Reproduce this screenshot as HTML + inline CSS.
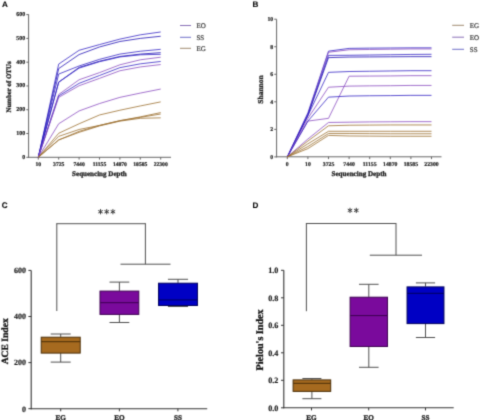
<!DOCTYPE html>
<html><head><meta charset="utf-8"><style>
html,body{margin:0;padding:0;background:#fff;}
body{width:480px;height:420px;overflow:hidden;font-family:"Liberation Serif", serif;}
svg{display:block;}
text{text-rendering:geometricPrecision;}
</style></head><body>
<svg width="480" height="420" viewBox="0 0 480 420">
<defs><filter id="bl" x="0" y="0" width="480" height="420" filterUnits="userSpaceOnUse" color-interpolation-filters="sRGB"><feConvolveMatrix order="3" kernelMatrix="0.0225 0.105 0.0225 0.105 0.49 0.105 0.0225 0.105 0.0225" edgeMode="duplicate"/></filter></defs>
<g filter="url(#bl)">
<rect width="480" height="420" fill="#fff"/>
<text x="1.9" y="7.1" text-anchor="start" font-family='"Liberation Sans", sans-serif' font-weight="bold" font-size="8.1" fill="#000"  stroke="#000" stroke-width="0.1">A</text>
<line x1="28.60" y1="14.30" x2="28.60" y2="157.80" stroke="#666" stroke-width="1"/>
<line x1="28.10" y1="157.30" x2="171.00" y2="157.30" stroke="#666" stroke-width="1"/>
<line x1="26.30" y1="157.30" x2="28.60" y2="157.30" stroke="#666" stroke-width="1"/>
<text x="25.1" y="158.8" text-anchor="end" font-family='"Liberation Serif", serif' font-weight="bold" font-size="5.9" fill="#222"  stroke="#222" stroke-width="0.2">0</text>
<line x1="26.30" y1="133.52" x2="28.60" y2="133.52" stroke="#666" stroke-width="1"/>
<text x="25.1" y="135.02" text-anchor="end" font-family='"Liberation Serif", serif' font-weight="bold" font-size="5.9" fill="#222"  stroke="#222" stroke-width="0.2">100</text>
<line x1="26.30" y1="109.74" x2="28.60" y2="109.74" stroke="#666" stroke-width="1"/>
<text x="25.1" y="111.24000000000001" text-anchor="end" font-family='"Liberation Serif", serif' font-weight="bold" font-size="5.9" fill="#222"  stroke="#222" stroke-width="0.2">200</text>
<line x1="26.30" y1="85.96" x2="28.60" y2="85.96" stroke="#666" stroke-width="1"/>
<text x="25.1" y="87.46000000000001" text-anchor="end" font-family='"Liberation Serif", serif' font-weight="bold" font-size="5.9" fill="#222"  stroke="#222" stroke-width="0.2">300</text>
<line x1="26.30" y1="62.18" x2="28.60" y2="62.18" stroke="#666" stroke-width="1"/>
<text x="25.1" y="63.68000000000001" text-anchor="end" font-family='"Liberation Serif", serif' font-weight="bold" font-size="5.9" fill="#222"  stroke="#222" stroke-width="0.2">400</text>
<line x1="26.30" y1="38.40" x2="28.60" y2="38.40" stroke="#666" stroke-width="1"/>
<text x="25.1" y="39.900000000000006" text-anchor="end" font-family='"Liberation Serif", serif' font-weight="bold" font-size="5.9" fill="#222"  stroke="#222" stroke-width="0.2">500</text>
<line x1="26.30" y1="14.62" x2="28.60" y2="14.62" stroke="#666" stroke-width="1"/>
<text x="25.1" y="16.120000000000005" text-anchor="end" font-family='"Liberation Serif", serif' font-weight="bold" font-size="5.9" fill="#222"  stroke="#222" stroke-width="0.2">600</text>
<line x1="38.30" y1="157.30" x2="38.30" y2="159.60" stroke="#666" stroke-width="1"/>
<text x="38.3" y="165.6" text-anchor="middle" font-family='"Liberation Serif", serif' font-weight="bold" font-size="5.6" fill="#222"  stroke="#222" stroke-width="0.2">10</text>
<line x1="58.70" y1="157.30" x2="58.70" y2="159.60" stroke="#666" stroke-width="1"/>
<text x="58.7" y="165.6" text-anchor="middle" font-family='"Liberation Serif", serif' font-weight="bold" font-size="5.6" fill="#222"  stroke="#222" stroke-width="0.2">3725</text>
<line x1="79.10" y1="157.30" x2="79.10" y2="159.60" stroke="#666" stroke-width="1"/>
<text x="79.1" y="165.6" text-anchor="middle" font-family='"Liberation Serif", serif' font-weight="bold" font-size="5.6" fill="#222"  stroke="#222" stroke-width="0.2">7440</text>
<line x1="99.50" y1="157.30" x2="99.50" y2="159.60" stroke="#666" stroke-width="1"/>
<text x="99.5" y="165.6" text-anchor="middle" font-family='"Liberation Serif", serif' font-weight="bold" font-size="5.6" fill="#222"  stroke="#222" stroke-width="0.2">11155</text>
<line x1="119.90" y1="157.30" x2="119.90" y2="159.60" stroke="#666" stroke-width="1"/>
<text x="119.9" y="165.6" text-anchor="middle" font-family='"Liberation Serif", serif' font-weight="bold" font-size="5.6" fill="#222"  stroke="#222" stroke-width="0.2">14870</text>
<line x1="140.30" y1="157.30" x2="140.30" y2="159.60" stroke="#666" stroke-width="1"/>
<text x="140.3" y="165.6" text-anchor="middle" font-family='"Liberation Serif", serif' font-weight="bold" font-size="5.6" fill="#222"  stroke="#222" stroke-width="0.2">18585</text>
<line x1="160.70" y1="157.30" x2="160.70" y2="159.60" stroke="#666" stroke-width="1"/>
<text x="160.7" y="165.6" text-anchor="middle" font-family='"Liberation Serif", serif' font-weight="bold" font-size="5.6" fill="#222"  stroke="#222" stroke-width="0.2">22300</text>
<text x="99.4" y="176.0" text-anchor="middle" font-family='"Liberation Serif", serif' font-weight="bold" font-size="7.05" fill="#222"  stroke="#222" stroke-width="0.3">Sequencing Depth</text>
<text transform="translate(11.1,87) rotate(-90)" text-anchor="middle" font-family='"Liberation Serif", serif' font-weight="bold" font-size="6.9" fill="#222"  stroke="#222" stroke-width="0.3">Number of OTUs</text>
<polyline points="38.30,157.30 58.70,64.08 79.10,50.29 99.50,44.58 119.90,39.11 140.30,34.83 160.70,31.98" fill="none" stroke="#3424c4" stroke-width="0.8" stroke-opacity="1" stroke-linejoin="round"/>
<polyline points="38.30,157.30 58.70,68.60 79.10,54.57 99.50,46.96 119.90,41.49 140.30,38.40 160.70,36.26" fill="none" stroke="#2010b4" stroke-width="0.8" stroke-opacity="1" stroke-linejoin="round"/>
<polyline points="38.30,157.30 58.70,74.07 79.10,65.98 99.50,59.33 119.90,54.09 140.30,51.24 160.70,49.34" fill="none" stroke="#3424c4" stroke-width="0.8" stroke-opacity="1" stroke-linejoin="round"/>
<polyline points="38.30,157.30 58.70,82.16 79.10,67.41 99.50,61.23 119.90,56.47 140.30,54.09 160.70,52.67" fill="none" stroke="#2010b4" stroke-width="0.8" stroke-opacity="1" stroke-linejoin="round"/>
<polyline points="38.30,157.30 58.70,82.16 79.10,68.12 99.50,61.70 119.90,56.95 140.30,54.81 160.70,54.33" fill="none" stroke="#3424c4" stroke-width="0.8" stroke-opacity="1" stroke-linejoin="round"/>
<polyline points="38.30,157.30 58.70,94.52 79.10,79.78 99.50,72.64 119.90,64.80 140.30,59.80 160.70,57.19" fill="none" stroke="#8a4cc0" stroke-width="0.8" stroke-opacity="1" stroke-linejoin="round"/>
<polyline points="38.30,157.30 58.70,95.95 79.10,83.34 99.50,75.50 119.90,67.65 140.30,63.84 160.70,61.47" fill="none" stroke="#3424c4" stroke-width="0.8" stroke-opacity="1" stroke-linejoin="round"/>
<polyline points="38.30,157.30 58.70,97.37 79.10,85.72 99.50,78.35 119.90,70.74 140.30,66.94 160.70,64.56" fill="none" stroke="#8a4cc0" stroke-width="0.8" stroke-opacity="1" stroke-linejoin="round"/>
<polyline points="38.30,157.30 58.70,123.77 79.10,110.93 99.50,103.56 119.90,97.37 140.30,93.09 160.70,89.05" fill="none" stroke="#8a4cc0" stroke-width="0.8" stroke-opacity="1" stroke-linejoin="round"/>
<polyline points="38.30,157.30 58.70,133.28 79.10,123.77 99.50,114.97 119.90,110.22 140.30,105.94 160.70,101.89" fill="none" stroke="#9c7030" stroke-width="0.8" stroke-opacity="1" stroke-linejoin="round"/>
<polyline points="38.30,157.30 58.70,136.37 79.10,129.48 99.50,125.43 119.90,120.68 140.30,116.87 160.70,112.59" fill="none" stroke="#9c7030" stroke-width="0.8" stroke-opacity="1" stroke-linejoin="round"/>
<polyline points="38.30,157.30 58.70,139.94 79.10,131.38 99.50,125.43 119.90,120.68 140.30,117.35 160.70,114.02" fill="none" stroke="#9c7030" stroke-width="0.8" stroke-opacity="1" stroke-linejoin="round"/>
<polyline points="38.30,157.30 58.70,139.94 79.10,132.33 99.50,125.91 119.90,121.15 140.30,118.30 160.70,117.83" fill="none" stroke="#9c7030" stroke-width="0.8" stroke-opacity="1" stroke-linejoin="round"/>
<line x1="180.00" y1="25.50" x2="191.00" y2="25.50" stroke="#8a70b8" stroke-width="1.0"/>
<text x="196.4" y="27.9" text-anchor="start" font-family='"Liberation Serif", serif' font-weight="normal" font-size="7.0" fill="#333"  stroke="#333" stroke-width="0.2">EO</text>
<line x1="180.00" y1="37.30" x2="191.00" y2="37.30" stroke="#7070c8" stroke-width="1.0"/>
<text x="196.4" y="39.699999999999996" text-anchor="start" font-family='"Liberation Serif", serif' font-weight="normal" font-size="7.0" fill="#333"  stroke="#333" stroke-width="0.2">SS</text>
<line x1="180.00" y1="48.30" x2="191.00" y2="48.30" stroke="#a08a70" stroke-width="1.0"/>
<text x="196.4" y="50.699999999999996" text-anchor="start" font-family='"Liberation Serif", serif' font-weight="normal" font-size="7.0" fill="#333"  stroke="#333" stroke-width="0.2">EG</text>
<text x="252.5" y="7.1" text-anchor="start" font-family='"Liberation Sans", sans-serif' font-weight="bold" font-size="8.1" fill="#000"  stroke="#000" stroke-width="0.1">B</text>
<line x1="276.60" y1="19.30" x2="276.60" y2="157.30" stroke="#666" stroke-width="1"/>
<line x1="276.10" y1="156.80" x2="441.50" y2="156.80" stroke="#666" stroke-width="1"/>
<line x1="274.20" y1="156.90" x2="276.60" y2="156.90" stroke="#666" stroke-width="1"/>
<text x="273.2" y="158.8" text-anchor="end" font-family='"Liberation Serif", serif' font-weight="bold" font-size="5.8" fill="#222"  stroke="#222" stroke-width="0.2">0</text>
<line x1="274.20" y1="129.36" x2="276.60" y2="129.36" stroke="#666" stroke-width="1"/>
<text x="273.2" y="131.26000000000002" text-anchor="end" font-family='"Liberation Serif", serif' font-weight="bold" font-size="5.8" fill="#222"  stroke="#222" stroke-width="0.2">2</text>
<line x1="274.20" y1="101.82" x2="276.60" y2="101.82" stroke="#666" stroke-width="1"/>
<text x="273.2" y="103.72000000000001" text-anchor="end" font-family='"Liberation Serif", serif' font-weight="bold" font-size="5.8" fill="#222"  stroke="#222" stroke-width="0.2">4</text>
<line x1="274.20" y1="74.28" x2="276.60" y2="74.28" stroke="#666" stroke-width="1"/>
<text x="273.2" y="76.18" text-anchor="end" font-family='"Liberation Serif", serif' font-weight="bold" font-size="5.8" fill="#222"  stroke="#222" stroke-width="0.2">6</text>
<line x1="274.20" y1="46.74" x2="276.60" y2="46.74" stroke="#666" stroke-width="1"/>
<text x="273.2" y="48.64000000000001" text-anchor="end" font-family='"Liberation Serif", serif' font-weight="bold" font-size="5.8" fill="#222"  stroke="#222" stroke-width="0.2">8</text>
<line x1="274.20" y1="19.20" x2="276.60" y2="19.20" stroke="#666" stroke-width="1"/>
<text x="273.2" y="21.100000000000016" text-anchor="end" font-family='"Liberation Serif", serif' font-weight="bold" font-size="5.8" fill="#222"  stroke="#222" stroke-width="0.2">10</text>
<line x1="287.30" y1="156.80" x2="287.30" y2="159.10" stroke="#666" stroke-width="1"/>
<text x="287.3" y="165.5" text-anchor="middle" font-family='"Liberation Serif", serif' font-weight="bold" font-size="5.75" fill="#222"  stroke="#222" stroke-width="0.2">0</text>
<line x1="307.90" y1="156.80" x2="307.90" y2="159.10" stroke="#666" stroke-width="1"/>
<text x="307.9" y="165.5" text-anchor="middle" font-family='"Liberation Serif", serif' font-weight="bold" font-size="5.75" fill="#222"  stroke="#222" stroke-width="0.2">10</text>
<line x1="328.50" y1="156.80" x2="328.50" y2="159.10" stroke="#666" stroke-width="1"/>
<text x="328.5" y="165.5" text-anchor="middle" font-family='"Liberation Serif", serif' font-weight="bold" font-size="5.75" fill="#222"  stroke="#222" stroke-width="0.2">3725</text>
<line x1="349.10" y1="156.80" x2="349.10" y2="159.10" stroke="#666" stroke-width="1"/>
<text x="349.1" y="165.5" text-anchor="middle" font-family='"Liberation Serif", serif' font-weight="bold" font-size="5.75" fill="#222"  stroke="#222" stroke-width="0.2">7440</text>
<line x1="369.70" y1="156.80" x2="369.70" y2="159.10" stroke="#666" stroke-width="1"/>
<text x="369.7" y="165.5" text-anchor="middle" font-family='"Liberation Serif", serif' font-weight="bold" font-size="5.75" fill="#222"  stroke="#222" stroke-width="0.2">11155</text>
<line x1="390.30" y1="156.80" x2="390.30" y2="159.10" stroke="#666" stroke-width="1"/>
<text x="390.3" y="165.5" text-anchor="middle" font-family='"Liberation Serif", serif' font-weight="bold" font-size="5.75" fill="#222"  stroke="#222" stroke-width="0.2">14870</text>
<line x1="410.90" y1="156.80" x2="410.90" y2="159.10" stroke="#666" stroke-width="1"/>
<text x="410.9" y="165.5" text-anchor="middle" font-family='"Liberation Serif", serif' font-weight="bold" font-size="5.75" fill="#222"  stroke="#222" stroke-width="0.2">18585</text>
<line x1="431.50" y1="156.80" x2="431.50" y2="159.10" stroke="#666" stroke-width="1"/>
<text x="431.5" y="165.5" text-anchor="middle" font-family='"Liberation Serif", serif' font-weight="bold" font-size="5.75" fill="#222"  stroke="#222" stroke-width="0.2">22300</text>
<text x="359" y="176.4" text-anchor="middle" font-family='"Liberation Serif", serif' font-weight="bold" font-size="7.1" fill="#222"  stroke="#222" stroke-width="0.3">Sequencing Depth</text>
<text transform="translate(262.5,89.5) rotate(-90)" text-anchor="middle" font-family='"Liberation Serif", serif' font-weight="bold" font-size="7.5" fill="#222"  stroke="#222" stroke-width="0.3">Shannon</text>
<polyline points="287.30,156.90 307.90,112.84 328.50,51.15 349.10,48.39 369.70,48.12 390.30,47.98 410.90,47.84 431.50,47.84" fill="none" stroke="#3424c4" stroke-width="0.8" stroke-opacity="1" stroke-linejoin="round"/>
<polyline points="287.30,156.90 307.90,114.21 328.50,52.25 349.10,49.77 369.70,49.49 390.30,49.22 410.90,48.94 431.50,48.94" fill="none" stroke="#8a4cc0" stroke-width="0.8" stroke-opacity="1" stroke-linejoin="round"/>
<polyline points="287.30,156.90 307.90,114.21 328.50,55.42 349.10,55.28 369.70,55.00 390.30,54.73 410.90,54.45 431.50,54.31" fill="none" stroke="#3424c4" stroke-width="0.8" stroke-opacity="1" stroke-linejoin="round"/>
<polyline points="287.30,156.90 307.90,115.59 328.50,57.62 349.10,57.07 369.70,56.93 390.30,56.79 410.90,56.65 431.50,56.65" fill="none" stroke="#2010b4" stroke-width="0.8" stroke-opacity="1" stroke-linejoin="round"/>
<polyline points="287.30,156.90 307.90,115.59 328.50,72.35 349.10,71.53 369.70,71.25 390.30,70.98 410.90,70.70 431.50,70.70" fill="none" stroke="#3424c4" stroke-width="0.8" stroke-opacity="1" stroke-linejoin="round"/>
<polyline points="287.30,156.90 307.90,121.10 328.50,118.34 349.10,76.21 369.70,76.07 390.30,75.93 410.90,75.66 431.50,75.66" fill="none" stroke="#8a4cc0" stroke-width="0.8" stroke-opacity="1" stroke-linejoin="round"/>
<polyline points="287.30,156.90 307.90,118.34 328.50,87.22 349.10,86.12 369.70,85.85 390.30,85.71 410.90,85.43 431.50,85.43" fill="none" stroke="#8a4cc0" stroke-width="0.8" stroke-opacity="1" stroke-linejoin="round"/>
<polyline points="287.30,156.90 307.90,121.10 328.50,97.14 349.10,96.04 369.70,95.76 390.30,95.62 410.90,95.35 431.50,95.35" fill="none" stroke="#3424c4" stroke-width="0.8" stroke-opacity="1" stroke-linejoin="round"/>
<polyline points="287.30,156.90 307.90,139.00 328.50,122.48 349.10,122.20 369.70,121.92 390.30,121.79 410.90,121.65 431.50,121.65" fill="none" stroke="#8a4cc0" stroke-width="0.8" stroke-opacity="1" stroke-linejoin="round"/>
<polyline points="287.30,156.90 307.90,141.06 328.50,125.78 349.10,125.23 369.70,125.09 390.30,124.95 410.90,124.95 431.50,124.95" fill="none" stroke="#9c7030" stroke-width="0.8" stroke-opacity="1" stroke-linejoin="round"/>
<polyline points="287.30,156.90 307.90,143.82 328.50,131.29 349.10,131.29 369.70,131.29 390.30,131.29 410.90,131.29 431.50,131.29" fill="none" stroke="#9c7030" stroke-width="0.8" stroke-opacity="1" stroke-linejoin="round"/>
<polyline points="287.30,156.90 307.90,146.57 328.50,133.49 349.10,133.49 369.70,133.63 390.30,133.77 410.90,133.77 431.50,133.77" fill="none" stroke="#9c7030" stroke-width="0.8" stroke-opacity="1" stroke-linejoin="round"/>
<polyline points="287.30,156.90 307.90,148.64 328.50,135.42 349.10,135.97 369.70,136.11 390.30,136.25 410.90,136.25 431.50,136.25" fill="none" stroke="#9c7030" stroke-width="0.8" stroke-opacity="1" stroke-linejoin="round"/>
<line x1="452.20" y1="25.30" x2="464.00" y2="25.30" stroke="#a08a70" stroke-width="1.0"/>
<text x="469.8" y="27.7" text-anchor="start" font-family='"Liberation Serif", serif' font-weight="normal" font-size="7.0" fill="#333"  stroke="#333" stroke-width="0.2">EG</text>
<line x1="452.20" y1="37.20" x2="464.00" y2="37.20" stroke="#8a70b8" stroke-width="1.0"/>
<text x="469.8" y="39.6" text-anchor="start" font-family='"Liberation Serif", serif' font-weight="normal" font-size="7.0" fill="#333"  stroke="#333" stroke-width="0.2">EO</text>
<line x1="452.20" y1="49.30" x2="464.00" y2="49.30" stroke="#7070c8" stroke-width="1.0"/>
<text x="469.8" y="51.699999999999996" text-anchor="start" font-family='"Liberation Serif", serif' font-weight="normal" font-size="7.0" fill="#333"  stroke="#333" stroke-width="0.2">SS</text>
<text x="1.7" y="207.7" text-anchor="start" font-family='"Liberation Sans", sans-serif' font-weight="bold" font-size="8.1" fill="#000"  stroke="#000" stroke-width="0.1">C</text>
<line x1="31.20" y1="270.40" x2="31.20" y2="409.20" stroke="#333" stroke-width="1.1"/>
<line x1="30.70" y1="408.70" x2="207.20" y2="408.70" stroke="#333" stroke-width="1.1"/>
<line x1="28.40" y1="408.70" x2="31.20" y2="408.70" stroke="#333" stroke-width="1.0"/>
<text x="26.1" y="411.5" text-anchor="end" font-family='"Liberation Serif", serif' font-weight="bold" font-size="8.0" fill="#1a1a1a"  stroke="#1a1a1a" stroke-width="0.15">0</text>
<line x1="28.40" y1="362.60" x2="31.20" y2="362.60" stroke="#333" stroke-width="1.0"/>
<text x="26.1" y="365.4" text-anchor="end" font-family='"Liberation Serif", serif' font-weight="bold" font-size="8.0" fill="#1a1a1a"  stroke="#1a1a1a" stroke-width="0.15">200</text>
<line x1="28.40" y1="316.50" x2="31.20" y2="316.50" stroke="#333" stroke-width="1.0"/>
<text x="26.1" y="319.3" text-anchor="end" font-family='"Liberation Serif", serif' font-weight="bold" font-size="8.0" fill="#1a1a1a"  stroke="#1a1a1a" stroke-width="0.15">400</text>
<line x1="28.40" y1="270.40" x2="31.20" y2="270.40" stroke="#333" stroke-width="1.0"/>
<text x="26.1" y="273.2" text-anchor="end" font-family='"Liberation Serif", serif' font-weight="bold" font-size="8.0" fill="#1a1a1a"  stroke="#1a1a1a" stroke-width="0.15">600</text>
<line x1="60.70" y1="408.70" x2="60.70" y2="411.30" stroke="#333" stroke-width="1"/>
<text x="60.7" y="420.3" text-anchor="middle" font-family='"Liberation Serif", serif' font-weight="bold" font-size="7.2" fill="#222"  stroke="#222" stroke-width="0.3">EG</text>
<line x1="119.40" y1="408.70" x2="119.40" y2="411.30" stroke="#333" stroke-width="1"/>
<text x="119.4" y="420.3" text-anchor="middle" font-family='"Liberation Serif", serif' font-weight="bold" font-size="7.2" fill="#222"  stroke="#222" stroke-width="0.3">EO</text>
<line x1="177.90" y1="408.70" x2="177.90" y2="411.30" stroke="#333" stroke-width="1"/>
<text x="177.9" y="420.3" text-anchor="middle" font-family='"Liberation Serif", serif' font-weight="bold" font-size="7.2" fill="#222"  stroke="#222" stroke-width="0.3">SS</text>
<text transform="translate(7.7,341.3) rotate(-90)" text-anchor="middle" font-family='"Liberation Serif", serif' font-weight="bold" font-size="9.6" fill="#111"  stroke="#111" stroke-width="0.3">ACE Index</text>
<line x1="56.80" y1="223.70" x2="56.80" y2="311.00" stroke="#505050" stroke-width="1"/>
<line x1="56.30" y1="223.70" x2="145.40" y2="223.70" stroke="#505050" stroke-width="1"/>
<line x1="145.40" y1="223.20" x2="145.40" y2="264.20" stroke="#505050" stroke-width="1"/>
<line x1="120.50" y1="264.20" x2="170.50" y2="264.20" stroke="#505050" stroke-width="1"/>
<line x1="100.50" y1="209.10" x2="100.50" y2="214.30" stroke="#3a3a3a" stroke-width="1.0"/>
<line x1="98.25" y1="210.40" x2="102.75" y2="213.00" stroke="#3a3a3a" stroke-width="1.0"/>
<line x1="102.75" y1="210.40" x2="98.25" y2="213.00" stroke="#3a3a3a" stroke-width="1.0"/>
<line x1="106.70" y1="209.10" x2="106.70" y2="214.30" stroke="#3a3a3a" stroke-width="1.0"/>
<line x1="104.45" y1="210.40" x2="108.95" y2="213.00" stroke="#3a3a3a" stroke-width="1.0"/>
<line x1="108.95" y1="210.40" x2="104.45" y2="213.00" stroke="#3a3a3a" stroke-width="1.0"/>
<line x1="112.90" y1="209.10" x2="112.90" y2="214.30" stroke="#3a3a3a" stroke-width="1.0"/>
<line x1="110.65" y1="210.40" x2="115.15" y2="213.00" stroke="#3a3a3a" stroke-width="1.0"/>
<line x1="115.15" y1="210.40" x2="110.65" y2="213.00" stroke="#3a3a3a" stroke-width="1.0"/>
<line x1="60.70" y1="334.00" x2="60.70" y2="336.90" stroke="#505050" stroke-width="1"/>
<line x1="60.70" y1="353.10" x2="60.70" y2="362.10" stroke="#505050" stroke-width="1"/>
<line x1="50.70" y1="334.00" x2="70.70" y2="334.00" stroke="#505050" stroke-width="1"/>
<line x1="50.70" y1="362.10" x2="70.70" y2="362.10" stroke="#505050" stroke-width="1"/>
<rect x="41.20" y="337.20" width="39.00" height="15.90" fill="#a66a1f" stroke="#4a2e08" stroke-width="1"/>
<line x1="41.20" y1="341.70" x2="80.20" y2="341.70" stroke="#4a2e08" stroke-width="1"/>
<line x1="119.40" y1="282.10" x2="119.40" y2="290.80" stroke="#505050" stroke-width="1"/>
<line x1="119.40" y1="314.40" x2="119.40" y2="322.50" stroke="#505050" stroke-width="1"/>
<line x1="109.50" y1="282.10" x2="129.30" y2="282.10" stroke="#505050" stroke-width="1"/>
<line x1="109.50" y1="322.50" x2="129.30" y2="322.50" stroke="#505050" stroke-width="1"/>
<rect x="100.00" y="291.10" width="38.80" height="23.30" fill="#7a0a9c" stroke="#3c0050" stroke-width="1"/>
<line x1="100.00" y1="302.70" x2="138.80" y2="302.70" stroke="#3c0050" stroke-width="1"/>
<line x1="178.00" y1="279.30" x2="178.00" y2="282.90" stroke="#505050" stroke-width="1"/>
<line x1="178.00" y1="305.50" x2="178.00" y2="306.50" stroke="#505050" stroke-width="1"/>
<line x1="167.95" y1="279.30" x2="188.05" y2="279.30" stroke="#505050" stroke-width="1"/>
<line x1="167.95" y1="306.50" x2="188.05" y2="306.50" stroke="#505050" stroke-width="1"/>
<rect x="158.55" y="283.20" width="38.90" height="22.30" fill="#0000c4" stroke="#00005c" stroke-width="1"/>
<line x1="158.55" y1="299.90" x2="197.45" y2="299.90" stroke="#00005c" stroke-width="1"/>
<text x="252.6" y="207.7" text-anchor="start" font-family='"Liberation Sans", sans-serif' font-weight="bold" font-size="8.1" fill="#000"  stroke="#000" stroke-width="0.1">D</text>
<line x1="283.80" y1="270.30" x2="283.80" y2="408.30" stroke="#333" stroke-width="1.1"/>
<line x1="283.30" y1="407.80" x2="453.70" y2="407.80" stroke="#333" stroke-width="1.1"/>
<line x1="281.00" y1="407.80" x2="283.80" y2="407.80" stroke="#333" stroke-width="1.0"/>
<text x="278.4" y="410.6" text-anchor="end" font-family='"Liberation Serif", serif' font-weight="bold" font-size="8.2" fill="#1a1a1a"  stroke="#1a1a1a" stroke-width="0.15">0.0</text>
<line x1="281.00" y1="380.30" x2="283.80" y2="380.30" stroke="#333" stroke-width="1.0"/>
<text x="278.4" y="383.1" text-anchor="end" font-family='"Liberation Serif", serif' font-weight="bold" font-size="8.2" fill="#1a1a1a"  stroke="#1a1a1a" stroke-width="0.15">0.2</text>
<line x1="281.00" y1="352.80" x2="283.80" y2="352.80" stroke="#333" stroke-width="1.0"/>
<text x="278.4" y="355.6" text-anchor="end" font-family='"Liberation Serif", serif' font-weight="bold" font-size="8.2" fill="#1a1a1a"  stroke="#1a1a1a" stroke-width="0.15">0.4</text>
<line x1="281.00" y1="325.30" x2="283.80" y2="325.30" stroke="#333" stroke-width="1.0"/>
<text x="278.4" y="328.1" text-anchor="end" font-family='"Liberation Serif", serif' font-weight="bold" font-size="8.2" fill="#1a1a1a"  stroke="#1a1a1a" stroke-width="0.15">0.6</text>
<line x1="281.00" y1="297.80" x2="283.80" y2="297.80" stroke="#333" stroke-width="1.0"/>
<text x="278.4" y="300.6" text-anchor="end" font-family='"Liberation Serif", serif' font-weight="bold" font-size="8.2" fill="#1a1a1a"  stroke="#1a1a1a" stroke-width="0.15">0.8</text>
<line x1="281.00" y1="270.30" x2="283.80" y2="270.30" stroke="#333" stroke-width="1.0"/>
<text x="278.4" y="273.1" text-anchor="end" font-family='"Liberation Serif", serif' font-weight="bold" font-size="8.2" fill="#1a1a1a"  stroke="#1a1a1a" stroke-width="0.15">1.0</text>
<line x1="311.50" y1="407.80" x2="311.50" y2="410.40" stroke="#333" stroke-width="1"/>
<text x="311.5" y="419.6" text-anchor="middle" font-family='"Liberation Serif", serif' font-weight="bold" font-size="7.2" fill="#222"  stroke="#222" stroke-width="0.3">EG</text>
<line x1="368.70" y1="407.80" x2="368.70" y2="410.40" stroke="#333" stroke-width="1"/>
<text x="368.7" y="419.6" text-anchor="middle" font-family='"Liberation Serif", serif' font-weight="bold" font-size="7.2" fill="#222"  stroke="#222" stroke-width="0.3">EO</text>
<line x1="425.50" y1="407.80" x2="425.50" y2="410.40" stroke="#333" stroke-width="1"/>
<text x="425.5" y="419.6" text-anchor="middle" font-family='"Liberation Serif", serif' font-weight="bold" font-size="7.2" fill="#222"  stroke="#222" stroke-width="0.3">SS</text>
<text transform="translate(263.0,339.9) rotate(-90)" text-anchor="middle" font-family='"Liberation Serif", serif' font-weight="bold" font-size="10.15" fill="#111"  stroke="#111" stroke-width="0.3">Pielou's Index</text>
<line x1="306.40" y1="223.50" x2="306.40" y2="311.20" stroke="#505050" stroke-width="1"/>
<line x1="305.90" y1="223.50" x2="396.00" y2="223.50" stroke="#505050" stroke-width="1"/>
<line x1="396.00" y1="223.00" x2="396.00" y2="255.20" stroke="#505050" stroke-width="1"/>
<line x1="369.80" y1="255.20" x2="422.00" y2="255.20" stroke="#505050" stroke-width="1"/>
<line x1="350.00" y1="207.80" x2="350.00" y2="213.00" stroke="#3a3a3a" stroke-width="1.0"/>
<line x1="347.75" y1="209.10" x2="352.25" y2="211.70" stroke="#3a3a3a" stroke-width="1.0"/>
<line x1="352.25" y1="209.10" x2="347.75" y2="211.70" stroke="#3a3a3a" stroke-width="1.0"/>
<line x1="356.30" y1="207.80" x2="356.30" y2="213.00" stroke="#3a3a3a" stroke-width="1.0"/>
<line x1="354.05" y1="209.10" x2="358.55" y2="211.70" stroke="#3a3a3a" stroke-width="1.0"/>
<line x1="358.55" y1="209.10" x2="354.05" y2="211.70" stroke="#3a3a3a" stroke-width="1.0"/>
<line x1="311.90" y1="378.50" x2="311.90" y2="379.60" stroke="#505050" stroke-width="1"/>
<line x1="311.90" y1="391.40" x2="311.90" y2="398.70" stroke="#505050" stroke-width="1"/>
<line x1="302.40" y1="378.50" x2="321.40" y2="378.50" stroke="#505050" stroke-width="1"/>
<line x1="302.40" y1="398.70" x2="321.40" y2="398.70" stroke="#505050" stroke-width="1"/>
<rect x="293.10" y="379.90" width="37.60" height="11.50" fill="#a66a1f" stroke="#4a2e08" stroke-width="1"/>
<line x1="293.10" y1="383.30" x2="330.70" y2="383.30" stroke="#4a2e08" stroke-width="1"/>
<line x1="368.80" y1="284.30" x2="368.80" y2="296.90" stroke="#505050" stroke-width="1"/>
<line x1="368.80" y1="346.50" x2="368.80" y2="367.30" stroke="#505050" stroke-width="1"/>
<line x1="359.00" y1="284.30" x2="378.60" y2="284.30" stroke="#505050" stroke-width="1"/>
<line x1="359.00" y1="367.30" x2="378.60" y2="367.30" stroke="#505050" stroke-width="1"/>
<rect x="350.10" y="297.20" width="37.40" height="49.30" fill="#7a0a9c" stroke="#3c0050" stroke-width="1"/>
<line x1="350.10" y1="315.60" x2="387.50" y2="315.60" stroke="#3c0050" stroke-width="1"/>
<line x1="425.50" y1="282.90" x2="425.50" y2="286.60" stroke="#505050" stroke-width="1"/>
<line x1="425.50" y1="323.60" x2="425.50" y2="337.50" stroke="#505050" stroke-width="1"/>
<line x1="415.90" y1="282.90" x2="435.10" y2="282.90" stroke="#505050" stroke-width="1"/>
<line x1="415.90" y1="337.50" x2="435.10" y2="337.50" stroke="#505050" stroke-width="1"/>
<rect x="407.05" y="286.90" width="36.90" height="36.70" fill="#0000c4" stroke="#00005c" stroke-width="1"/>
<line x1="407.05" y1="293.30" x2="443.95" y2="293.30" stroke="#00005c" stroke-width="1"/>
</g>
</svg>
</body></html>
